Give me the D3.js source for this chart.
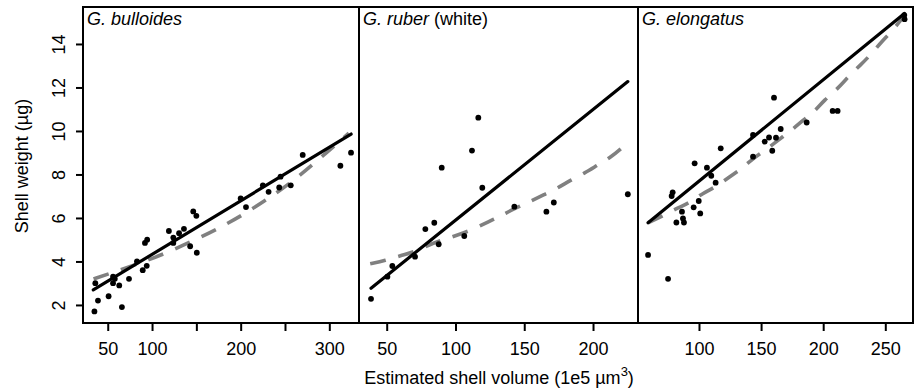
<!DOCTYPE html>
<html><head><meta charset="utf-8">
<script src="https://cdn.jsdelivr.net/npm/d3@7"></script>
<style>
html,body{margin:0;padding:0;background:#fff;}
svg{display:block;font-family:"Liberation Sans",Arial,sans-serif;}
</style></head>
<body><svg id="c" width="914" height="390"></svg>
<script>
// ---- data ----
const yTicks = [2, 4, 6, 8, 10, 12, 14];

const bullX = [35,39,36,51,66,56,58,56,63,74,89.5,94,83,92,94.5,119,124,124,130.5,136,143,150.5,146.5,150,200,206,225,231.5,243.5,245,256.5,270,312.5,324.5];
const bullY = [1.7,2.2,3.0,2.4,1.9,3.3,3.2,3.0,2.9,3.2,3.6,3.8,4.0,4.85,5.0,5.4,5.1,4.85,5.3,5.5,4.7,4.4,6.3,6.1,6.9,6.5,7.5,7.2,7.4,7.9,7.5,8.9,8.4,9.0];
const bullFitX = [33.7, 324.6];
const bullFitY = [2.69, 9.86];
const bullCurveX = [34,53,85,117,149,179,209,239,267,294,322];
const bullCurveY = [3.2,3.45,3.9,4.4,5.0,5.6,6.3,7.1,7.95,8.9,9.9];
const bullTicks = [50,100,150,200,250,300];
const bullLabels = ["50","100","","200","","300"];

const rubX = [38.6,50.5,54.1,70.6,78.1,84.6,87.8,90,106.4,112,116.6,119.5,142.8,166.1,171.5,225.3];
const rubY = [2.28,3.3,3.79,4.22,5.49,5.78,4.79,8.31,5.17,9.1,10.61,7.39,6.52,6.29,6.71,7.09];
const rubFitX = [38.6, 225.3];
const rubFitY = [2.77, 12.27];
const rubCurveX = [38,49,60,71,81.5,91,102,113,124,132,143,154,164,174,184,194,203.5,213,222,225.5];
const rubCurveY = [3.89,4.04,4.27,4.45,4.79,5.0,5.22,5.48,5.83,6.06,6.44,6.75,7.06,7.36,7.75,8.06,8.44,8.79,9.28,9.47];
const rubTicks = [50,100,150,200];
const rubLabels = ["50","100","150","200"];

const elX = [59,75.1,78.8,78,81.8,86.3,87.1,87.9,95.7,99.8,101,96.5,106.4,109.9,113.4,117.5,143.5,143.5,152.9,156.4,162,165.8,159,160.4,186.7,207.6,211.6,265.3,265.5];
const elY = [4.3,3.2,7.18,7.01,5.79,6.29,5.98,5.79,6.49,6.78,6.21,8.51,8.31,7.94,7.62,9.2,9.82,8.82,9.51,9.70,9.69,10.09,9.09,11.53,10.39,10.92,10.92,15.33,15.14];
const elFitX = [59, 265.4];
const elFitY = [5.78, 15.4];
const elCurveX = [59,71,82,92.5,103,114,125,135,143.5,154,164,175,184,193,201,212,220,230,238,247,255,264];
const elCurveY = [5.78,6.09,6.44,6.7,7.14,7.44,7.91,8.29,8.74,9.13,9.59,10.05,10.51,10.89,11.43,11.96,12.49,13.03,13.49,14.1,14.57,15.2];
const elTicks = [100,150,200,250];
const elLabels = ["100","150","200","250"];

// ---- layout ----
const svg = d3.select("#c");
const plotTop = 7, plotBottom = 323;
const y = d3.scaleLinear().domain([1.17, 15.70]).range([plotBottom, plotTop]);
const FONT = 18;
const FAM = '"Liberation Sans",Arial,sans-serif';

const panels = [
  {x0: 83, x1: 359, dom: [22.1, 333.5], px: bullX, py: bullY, fx: bullFitX, fy: bullFitY, cx: bullCurveX, cy: bullCurveY, ticks: bullTicks, labels: bullLabels, title: [["G. bulloides", true]]},
  {x0: 359, x1: 638, dom: [29.86, 232.7], px: rubX, py: rubY, fx: rubFitX, fy: rubFitY, cx: rubCurveX, cy: rubCurveY, ticks: rubTicks, labels: rubLabels, title: [["G. ruber", true], [" (white)", false]]},
  {x0: 638, x1: 913, dom: [50.9, 272.3], px: elX, py: elY, fx: elFitX, fy: elFitY, cx: elCurveX, cy: elCurveY, ticks: elTicks, labels: elLabels, title: [["G. elongatus", true]]}
];

panels.forEach((p, i) => {
  const x = d3.scaleLinear().domain(p.dom).range([p.x0, p.x1]);
  const g = svg.append("g");
  const clipId = "clip" + i;
  svg.append("clipPath").attr("id", clipId).append("rect")
    .attr("x", p.x0).attr("y", plotTop).attr("width", p.x1 - p.x0).attr("height", plotBottom - plotTop);
  const plot = g.append("g").attr("clip-path", `url(#${clipId})`);

  const curve = p.cx.map((v, k) => [v, p.cy[k]]);
  plot.append("path").datum(curve)
    .attr("d", d3.line().x(d => x(d[0])).y(d => y(d[1])).curve(d3.curveBasis))
    .attr("fill", "none").attr("stroke", "#808080").attr("stroke-width", 3.6)
    .attr("stroke-dasharray", "16,13");

  const fit = p.fx.map((v, k) => [v, p.fy[k]]);
  plot.append("path").datum(fit)
    .attr("d", d3.line().x(d => x(d[0])).y(d => y(d[1])))
    .attr("fill", "none").attr("stroke", "#000").attr("stroke-width", 3.2)
    .attr("stroke-linecap", "round");

  const pts = p.px.map((v, k) => [v, p.py[k]]);
  plot.selectAll("circle.pt").data(pts).enter().append("circle")
    .attr("cx", d => x(d[0])).attr("cy", d => y(d[1])).attr("r", 2.9).attr("fill", "#000");

  g.append("rect").attr("x", p.x0).attr("y", plotTop).attr("width", p.x1 - p.x0).attr("height", plotBottom - plotTop)
    .attr("fill", "none").attr("stroke", "#000").attr("stroke-width", 2);

  const ax = g.append("g").attr("transform", `translate(0,${plotBottom})`)
    .call(d3.axisBottom(x).tickValues(p.ticks).tickSize(8).tickPadding(6)
      .tickFormat((d, k) => p.labels[k]));
  ax.select(".domain").remove();
  ax.selectAll("line").attr("stroke", "#000").attr("stroke-width", 2);
  ax.selectAll("text").attr("font-size", FONT).attr("fill", "#000")
    .attr("font-family", FAM).attr("dy", null).attr("y", 32);

  const t = g.append("text").attr("x", p.x0 + 4).attr("y", 25).attr("font-size", FONT).attr("fill", "#000");
  p.title.forEach(([s, it]) => t.append("tspan").text(s).attr("font-style", it ? "italic" : "normal"));
});

const ay = svg.append("g").attr("transform", `translate(83,0)`)
  .call(d3.axisLeft(y).tickValues(yTicks).tickSize(7).tickFormat(d3.format("d")));
ay.select(".domain").remove();
ay.selectAll("line").attr("stroke", "#000").attr("stroke-width", 2);
ay.selectAll("text").each(function() {
  d3.select(this).attr("x", null).attr("dy", null).attr("text-anchor", "middle")
    .attr("transform", "translate(-18,0) rotate(-90)")
    .attr("font-size", FONT).attr("fill", "#000").attr("font-family", FAM);
});

svg.append("text").attr("transform", "translate(28,166) rotate(-90)")
  .attr("text-anchor", "middle").attr("font-size", FONT).attr("fill", "#000")
  .text("Shell weight (µg)");

const xt = svg.append("text").attr("x", 499).attr("y", 384)
  .attr("text-anchor", "middle").attr("font-size", FONT).attr("fill", "#000");
xt.append("tspan").text("Estimated shell volume (1e5 µm");
xt.append("tspan").text("3").attr("font-size", 13).attr("dy", -8);
xt.append("tspan").text(")").attr("dy", 8);
</script>
</body></html>
